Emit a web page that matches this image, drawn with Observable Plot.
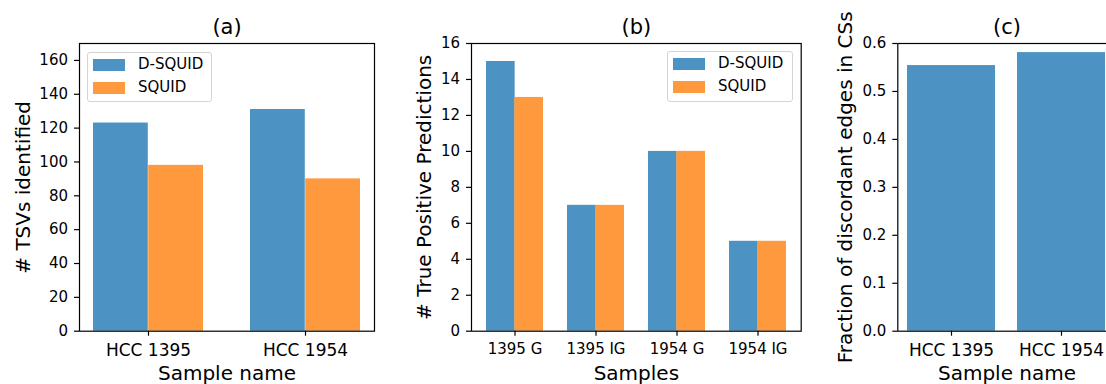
<!DOCTYPE html>
<html><head><meta charset="utf-8">
<script src="https://cdn.jsdelivr.net/npm/d3@7"></script>
<script src="https://cdn.jsdelivr.net/npm/@observablehq/plot@0.6"></script>
<style>
body{margin:0;overflow:hidden;background:#fff;font-family:"DejaVu Sans",sans-serif;}
#wrap{position:relative;width:1106px;height:384px;overflow:hidden;background:#fff;}
.panel{position:absolute;top:0;}
.legend{position:absolute;background:rgba(255,255,255,0.8);border:1px solid #d4d4d4;border-radius:3px;box-sizing:border-box;}
.legend .patch{position:absolute;width:32px;height:12px;}
.legend .lab{position:absolute;font-size:15px;line-height:15px;color:#000;white-space:nowrap;}
</style>
</head><body>
<div id="wrap"></div>
<script>
// ---- data ----
const seriesNames = ["D-SQUID", "SQUID"];
const samplesA = ["HCC 1395", "HCC 1954"];
const dsquidA = [123, 131];
const squidA = [98, 90];
const samplesB = ["1395 G", "1395 IG", "1954 G", "1954 IG"];
const dsquidB = [15, 7, 10, 5];
const squidB = [13, 7, 10, 5];
const samplesC = ["HCC 1395", "HCC 1954"];
const fracC = [0.554, 0.581];
const ticksA = [0, 20, 40, 60, 80, 100, 120, 140, 160];
const ticksB = [0, 2, 4, 6, 8, 10, 12, 14, 16];
const ticksC = [0, 0.1, 0.2, 0.3, 0.4, 0.5, 0.6];

const BLUE = "#4c92c3", ORANGE = "#ff993e";
const wrap = document.getElementById("wrap");

function bandwidth(width, n, pi, po) {
  const step = width / (n - pi + 2 * po);
  return step * (1 - pi);
}

function panel({left, width, mLeft, mRight, samples, series, ydomain, yticks, yfmt, xfont, title, xlabel, ylabel, ylabDx, pi, po}) {
  const frameW = width - mLeft - mRight;
  const bw = bandwidth(frameW, samples.length, pi, po);
  const marks = [];
  if (series.length === 2) {
    const t0 = samples.map((s, i) => ({s, v: series[0][i]}));
    const t1 = samples.map((s, i) => ({s, v: series[1][i]}));
    marks.push(Plot.barY(t0, {x: "s", y: "v", fill: BLUE, insetRight: bw / 2}));
    marks.push(Plot.barY(t1, {x: "s", y: "v", fill: ORANGE, insetLeft: bw / 2}));
  } else {
    const t0 = samples.map((s, i) => ({s, v: series[0][i]}));
    marks.push(Plot.barY(t0, {x: "s", y: "v", fill: BLUE}));
  }
  marks.push(Plot.axisY({ticks: yticks, tickSize: 5, tickPadding: 6.5, fontSize: 15, label: null, strokeWidth: 1.2, tickFormat: yfmt}));
  marks.push(Plot.axisX({tickSize: 5, tickPadding: 7.5, fontSize: xfont, label: null, strokeWidth: 1.2}));
  marks.push(Plot.frame({stroke: "black", strokeWidth: 1.2}));
  const common = {text: d => d, textAnchor: "middle", lineAnchor: "middle"};
  marks.push(Plot.text([title], {...common, frameAnchor: "top", dy: -16.7, fontSize: 21}));
  marks.push(Plot.text([xlabel], {...common, frameAnchor: "bottom", dy: 42.4, fontSize: 20}));
  marks.push(Plot.text([ylabel], {...common, frameAnchor: "left", rotate: -90, dx: ylabDx, fontSize: 20}));
  const p = Plot.plot({
    width, height: 384,
    marginLeft: mLeft, marginRight: mRight, marginTop: 43, marginBottom: 53.3,
    style: {fontFamily: "DejaVu Sans", fontSize: "15px", color: "black", background: "transparent", overflow: "visible"},
    x: {type: "band", domain: samples, paddingInner: pi, paddingOuter: po, align: 0.5, label: null},
    y: {domain: ydomain, label: null},
    marks
  });
  p.classList.add("panel");
  p.style.left = left + "px";
  wrap.appendChild(p);
}

panel({left: 0, width: 400, mLeft: 79, mRight: 26, samples: samplesA, series: [dsquidA, squidA],
  ydomain: [0, 170], yticks: ticksA, yfmt: d3.format("d"), xfont: 17,
  title: "(a)", xlabel: "Sample name", ylabel: "# TSVs identified", ylabDx: -56.4, pi: 0.3, po: 0.085});
panel({left: 400, width: 410, mLeft: 71, mRight: 9.3, samples: samplesB, series: [dsquidB, squidB],
  ydomain: [0, 16], yticks: ticksB, yfmt: d3.format("d"), xfont: 15,
  title: "(b)", xlabel: "Samples", ylabel: "# True Positive Predictions", ylabDx: -47.2, pi: 0.3, po: 0.185});
panel({left: 810, width: 320, mLeft: 87.3, mRight: 14.3, samples: samplesC, series: [fracC],
  ydomain: [0, 0.6], yticks: ticksC, yfmt: d3.format(".1f"), xfont: 17,
  title: "(c)", xlabel: "Sample name", ylabel: "Fraction of discordant edges in CSs", ylabDx: -52.5, pi: 0.2, po: 0.09});

function legend(left, top, w, h) {
  const box = document.createElement("div");
  box.className = "legend";
  Object.assign(box.style, {left: left + "px", top: top + "px", width: w + "px", height: h + "px"});
  const colors = [BLUE, ORANGE];
  seriesNames.forEach((name, i) => {
    const py = 6 + i * 23;
    const patch = document.createElement("div");
    patch.className = "patch";
    Object.assign(patch.style, {left: "5px", top: py + "px", background: colors[i]});
    box.appendChild(patch);
    const lab = document.createElement("div");
    lab.className = "lab";
    lab.textContent = name;
    Object.assign(lab.style, {left: "50px", top: (py - 2) + "px"});
    box.appendChild(lab);
  });
  wrap.appendChild(box);
}
legend(87, 52, 125, 50);
legend(667, 51, 126, 51);
</script>
</body></html>
